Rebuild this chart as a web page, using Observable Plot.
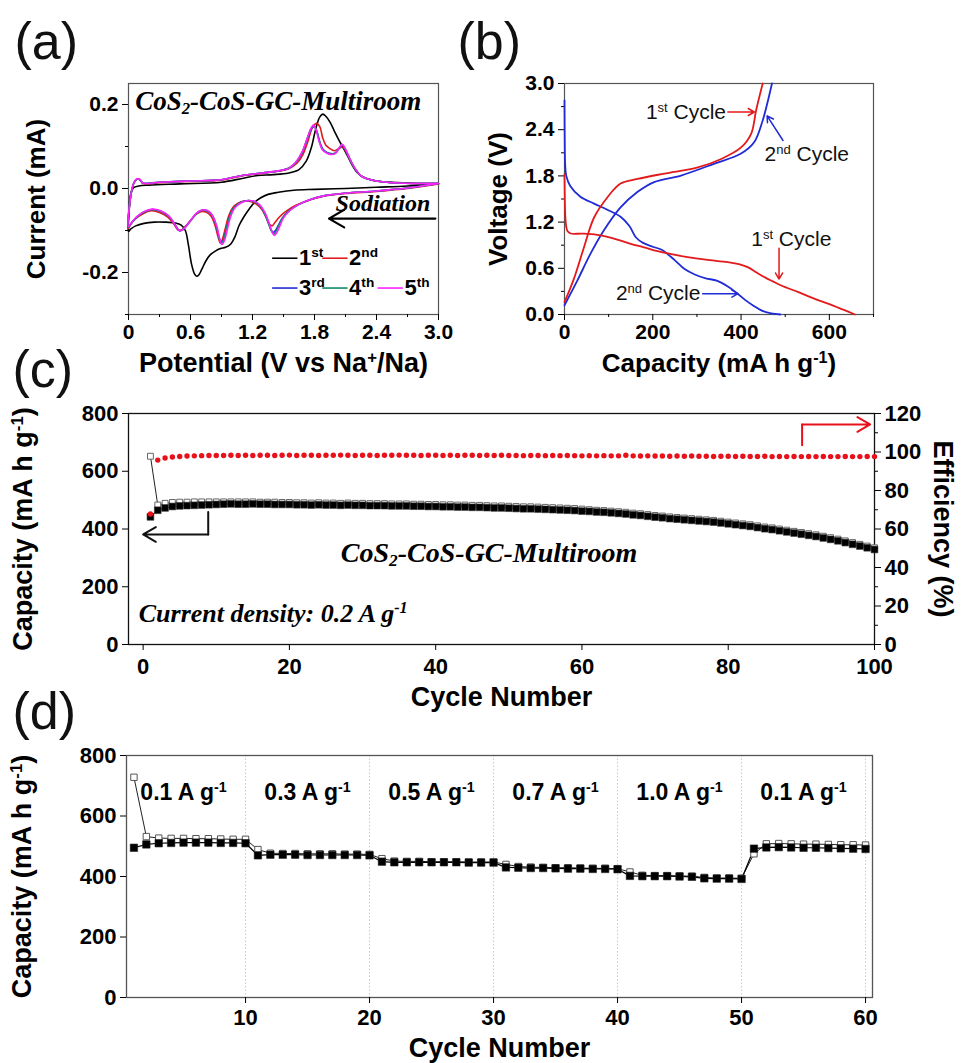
<!DOCTYPE html>
<html><head><meta charset="utf-8">
<script src="https://cdn.jsdelivr.net/npm/d3@7"></script>
<script src="https://cdn.jsdelivr.net/npm/@observablehq/plot@0.6"></script>
<style>
body{margin:0;background:#fff}
#fig{position:relative;width:962px;height:1063px;overflow:hidden;background:#fff}
</style>
</head><body><div id="fig"></div>
<script>
// ---------------- DATA ----------------
// (a) cyclic voltammetry, pairs [potential V, current mA]
const cvCycle1 = [[3.0,0.011],[2.7,0.006],[2.4,0.003],[2.1,0.0],[1.8,-0.002],[1.6,-0.004],[1.45,-0.009],[1.35,-0.014],[1.28,-0.022],[1.22,-0.033],[1.17,-0.048],[1.12,-0.066],[1.07,-0.088],[1.03,-0.115],[0.99,-0.132],[0.94,-0.140],[0.89,-0.143],[0.84,-0.149],[0.79,-0.158],[0.75,-0.172],[0.71,-0.192],[0.68,-0.206],[0.66,-0.209],[0.64,-0.204],[0.61,-0.180],[0.58,-0.135],[0.55,-0.100],[0.51,-0.087],[0.45,-0.082],[0.35,-0.080],[0.25,-0.080],[0.15,-0.083],[0.07,-0.089],[0.02,-0.097],[0.0,-0.102],[0.005,-0.06],[0.02,-0.015],[0.05,0.002],[0.1,0.006],[0.2,0.008],[0.5,0.011],[0.9,0.015],[1.1,0.024],[1.25,0.031],[1.4,0.033],[1.55,0.037],[1.65,0.045],[1.72,0.065],[1.77,0.098],[1.81,0.140],[1.85,0.170],[1.88,0.177],[1.91,0.172],[1.95,0.158],[1.99,0.138],[2.03,0.118],[2.07,0.100],[2.11,0.082],[2.16,0.058],[2.21,0.039],[2.28,0.026],[2.4,0.018],[2.6,0.014],[2.8,0.012],[3.0,0.012]];
const cvCycle2 = [[3.0,0.011],[2.7,0.0],[2.4,-0.007],[2.1,-0.012],[1.9,-0.018],[1.75,-0.028],[1.62,-0.040],[1.52,-0.055],[1.46,-0.068],[1.42,-0.080],[1.39,-0.089],[1.36,-0.084],[1.33,-0.068],[1.29,-0.050],[1.24,-0.038],[1.18,-0.031],[1.12,-0.030],[1.06,-0.035],[1.01,-0.045],[0.97,-0.065],[0.94,-0.092],[0.91,-0.120],[0.89,-0.130],[0.87,-0.118],[0.84,-0.090],[0.80,-0.066],[0.75,-0.056],[0.70,-0.055],[0.65,-0.062],[0.60,-0.076],[0.55,-0.090],[0.51,-0.099],[0.48,-0.099],[0.44,-0.085],[0.38,-0.068],[0.30,-0.057],[0.22,-0.053],[0.14,-0.060],[0.07,-0.072],[0.02,-0.085],[0.0,-0.095],[0.02,-0.02],[0.05,0.012],[0.08,0.022],[0.11,0.021],[0.14,0.012],[0.3,0.014],[0.6,0.017],[0.9,0.020],[1.1,0.030],[1.3,0.036],[1.45,0.041],[1.55,0.047],[1.63,0.060],[1.69,0.082],[1.74,0.115],[1.78,0.145],[1.82,0.155],[1.85,0.148],[1.88,0.120],[1.91,0.103],[1.95,0.095],[1.99,0.090],[2.03,0.094],[2.07,0.099],[2.10,0.090],[2.14,0.070],[2.19,0.048],[2.25,0.030],[2.35,0.020],[2.5,0.015],[2.75,0.012],[3.0,0.012]];
const cvCycle3 = [[3.0,0.012],[2.7,0.001],[2.4,-0.006],[2.1,-0.011],[1.9,-0.017],[1.76,-0.026],[1.64,-0.039],[1.55,-0.054],[1.49,-0.070],[1.45,-0.088],[1.42,-0.101],[1.40,-0.104],[1.38,-0.098],[1.35,-0.078],[1.31,-0.055],[1.26,-0.038],[1.20,-0.030],[1.14,-0.029],[1.08,-0.034],[1.02,-0.046],[0.98,-0.066],[0.95,-0.094],[0.92,-0.122],[0.90,-0.131],[0.88,-0.120],[0.85,-0.090],[0.81,-0.064],[0.76,-0.053],[0.71,-0.052],[0.66,-0.059],[0.61,-0.074],[0.56,-0.089],[0.52,-0.099],[0.49,-0.100],[0.45,-0.086],[0.39,-0.066],[0.31,-0.054],[0.23,-0.050],[0.15,-0.056],[0.08,-0.068],[0.03,-0.082],[0.0,-0.092],[0.02,-0.02],[0.05,0.012],[0.08,0.022],[0.11,0.021],[0.14,0.013],[0.3,0.015],[0.6,0.018],[0.9,0.021],[1.1,0.031],[1.3,0.037],[1.45,0.042],[1.55,0.048],[1.62,0.062],[1.68,0.085],[1.73,0.118],[1.77,0.143],[1.795,0.148],[1.82,0.138],[1.85,0.112],[1.88,0.094],[1.92,0.086],[1.96,0.083],[2.0,0.084],[2.04,0.096],[2.07,0.103],[2.10,0.092],[2.14,0.071],[2.19,0.048],[2.25,0.030],[2.35,0.020],[2.5,0.015],[2.75,0.012],[3.0,0.012]];
const cvCycle4 = [[3.0,0.012],[2.7,0.001],[2.4,-0.006],[2.1,-0.011],[1.9,-0.017],[1.76,-0.026],[1.64,-0.039],[1.55,-0.054],[1.49,-0.071],[1.45,-0.090],[1.425,-0.104],[1.405,-0.108],[1.38,-0.100],[1.35,-0.080],[1.31,-0.056],[1.26,-0.038],[1.20,-0.030],[1.14,-0.029],[1.08,-0.034],[1.02,-0.046],[0.98,-0.066],[0.95,-0.094],[0.92,-0.122],[0.90,-0.132],[0.88,-0.121],[0.85,-0.090],[0.81,-0.064],[0.76,-0.053],[0.71,-0.052],[0.66,-0.059],[0.61,-0.074],[0.56,-0.089],[0.52,-0.099],[0.49,-0.100],[0.45,-0.086],[0.39,-0.066],[0.31,-0.054],[0.23,-0.050],[0.15,-0.056],[0.08,-0.068],[0.03,-0.082],[0.0,-0.092],[0.02,-0.02],[0.05,0.012],[0.08,0.022],[0.11,0.021],[0.14,0.013],[0.3,0.015],[0.6,0.018],[0.9,0.021],[1.1,0.031],[1.3,0.037],[1.45,0.042],[1.55,0.048],[1.62,0.062],[1.68,0.086],[1.73,0.119],[1.77,0.144],[1.795,0.149],[1.82,0.138],[1.85,0.110],[1.88,0.092],[1.92,0.085],[1.96,0.082],[2.0,0.084],[2.04,0.097],[2.07,0.104],[2.10,0.093],[2.14,0.071],[2.19,0.048],[2.25,0.030],[2.35,0.020],[2.5,0.015],[2.75,0.012],[3.0,0.012]];
const cvCycle5 = [[3.0,0.012],[2.7,0.001],[2.4,-0.006],[2.1,-0.011],[1.9,-0.017],[1.76,-0.026],[1.64,-0.039],[1.56,-0.053],[1.50,-0.070],[1.46,-0.092],[1.43,-0.107],[1.41,-0.112],[1.39,-0.104],[1.36,-0.082],[1.32,-0.057],[1.27,-0.039],[1.21,-0.030],[1.15,-0.029],[1.09,-0.034],[1.03,-0.046],[0.99,-0.066],[0.96,-0.094],[0.93,-0.123],[0.905,-0.133],[0.885,-0.122],[0.855,-0.090],[0.81,-0.063],[0.76,-0.052],[0.71,-0.051],[0.66,-0.058],[0.61,-0.073],[0.56,-0.089],[0.52,-0.099],[0.49,-0.100],[0.45,-0.086],[0.39,-0.065],[0.31,-0.053],[0.23,-0.049],[0.15,-0.055],[0.08,-0.067],[0.03,-0.081],[0.0,-0.091],[0.02,-0.02],[0.05,0.012],[0.08,0.023],[0.11,0.022],[0.14,0.013],[0.3,0.015],[0.6,0.018],[0.9,0.021],[1.1,0.031],[1.3,0.037],[1.45,0.042],[1.55,0.048],[1.62,0.063],[1.68,0.087],[1.73,0.120],[1.77,0.145],[1.79,0.151],[1.815,0.140],[1.845,0.112],[1.88,0.091],[1.92,0.084],[1.96,0.081],[2.0,0.083],[2.04,0.097],[2.07,0.105],[2.10,0.094],[2.14,0.072],[2.19,0.049],[2.25,0.030],[2.35,0.020],[2.5,0.015],[2.75,0.012],[3.0,0.012]];
const cvLegendLabels = ["1^{st}", "2^{nd}", "3^{rd}", "4^{th}", "5^{th}"];

// (b) charge/discharge profiles, pairs [capacity mA h g-1, voltage V]
const gcdDischarge1 = [[0,1.82],[0.5,1.6],[1,1.42],[2,1.26],[4,1.14],[7,1.08],[14,1.052],[40,1.05],[74,1.035],[110,0.99],[150,0.918],[180,0.872],[211,0.822],[245,0.78],[279,0.745],[320,0.712],[370,0.68],[395,0.655],[415,0.615],[435,0.545],[453,0.485],[472,0.43],[491,0.377],[530,0.29],[567,0.204],[600,0.135],[630,0.066],[658,0.0]];
const gcdDischarge2 = [[0,2.78],[0.3,2.45],[0.7,2.15],[1.5,1.95],[4,1.8],[13,1.67],[36,1.53],[67,1.44],[97,1.36],[127,1.27],[147,1.15],[162,1.0],[178,0.93],[200,0.88],[220,0.84],[249,0.71],[272,0.59],[295,0.52],[320,0.47],[345,0.44],[371,0.36],[390,0.28],[409,0.19],[428,0.115],[447,0.05],[468,0.015],[489,0.0]];
const gcdCharge1 = [[0,0.16],[21,0.46],[44,0.87],[67,1.26],[97,1.52],[127,1.70],[165,1.76],[226,1.83],[302,1.91],[355,2.02],[400,2.17],[423,2.35],[434,2.65],[449,3.0]];
const gcdCharge2 = [[0,0.12],[29,0.44],[59,0.79],[89,1.09],[127,1.39],[165,1.59],[203,1.72],[264,1.805],[340,1.96],[400,2.09],[430,2.24],[449,2.52],[461,2.78],[470,3.0]];

// (c) cycling at 0.2 A g-1, cycles 1..100
const cycleNumbersC = d3.range(1, 101);
const dischargeC = [652,483,489,492,493,493,494,494,494,494,494,494,494,494,494,493,493,493,492,492,491,491,490,491,490,490,489,490,489,489,488,488,488,487,487,487,486,486,485,485,484,484,483,483,482,482,481,480,480,479,478,477,477,476,475,474,473,472,471,469,467,465,464,462,460,458,455,453,450,447,445,442,440,438,436,434,432,430,427,424,421,418,415,411,407,404,400,396,392,388,384,380,375,370,365,359,353,347,341,335];
const chargeC = [442,465,473,478,480,481,482,483,484,485,486,487,486,486,487,486,486,485,485,485,484,484,483,484,483,483,482,483,482,482,481,481,481,480,480,480,479,479,478,478,477,477,476,476,475,475,474,473,473,472,471,470,470,469,468,467,466,465,464,462,461,459,458,456,454,452,449,447,444,441,439,436,434,432,430,428,426,424,421,418,415,412,409,405,401,398,394,390,386,382,378,374,369,364,359,353,347,341,335,329];
const efficiencyC = [67.8,95.8,96.9,97.4,97.7,97.9,98.0,98.1,98.2,98.2,98.2,98.3,98.2,98.3,98.2,98.3,98.3,98.2,98.3,98.4,98.2,98.3,98.3,98.2,98.3,98.3,98.4,98.3,98.2,98.3,98.3,98.2,98.3,98.3,98.4,98.3,98.3,98.2,98.3,98.3,98.2,98.3,98.2,98.3,98.3,98.2,98.3,98.2,98.3,98.2,98.2,98.1,98.2,98.2,98.1,98.2,98.1,98.2,98.1,98.0,98.1,98.0,98.1,98.0,98.0,98.3,98.0,97.9,98.0,97.9,97.9,97.8,97.9,97.8,97.9,97.8,97.8,97.7,97.8,97.8,97.7,97.8,97.7,97.7,97.8,97.6,97.7,97.6,97.7,97.6,97.7,97.6,97.7,97.6,97.6,97.7,97.6,97.6,97.7,97.6];

// (d) rate capability, cycles 1..60
const cycleNumbersD = d3.range(1, 61);
const dischargeD = [728,532,527,526,526,525,525,524,523,523,489,477,476,476,475,475,475,474,474,473,459,451,450,450,449,449,449,448,448,448,440,433,431,430,429,429,428,427,427,426,415,404,403,403,402,401,397,395,395,394,475,508,509,508,507,507,506,505,505,504];
const chargeD = [495,506,510,511,512,512,512,511,511,510,470,472,472,472,471,471,471,471,471,470,449,447,447,447,447,447,447,446,446,446,430,429,428,428,427,426,426,425,425,424,402,401,401,401,400,399,394,393,393,392,492,496,497,496,495,495,494,493,492,491];
const rateLabels = ["0.1 A g^{-1}","0.3 A g^{-1}","0.5 A g^{-1}","0.7 A g^{-1}","1.0 A g^{-1}","0.1 A g^{-1}"];
const rateLabelCycles = [5, 15, 25, 35, 45, 55];

// tick values
const ticksAx = [0, 0.6, 1.2, 1.8, 2.4, 3.0];
const ticksAy = [-0.2, 0.0, 0.2];
const ticksBx = [0, 200, 400, 600];
const ticksBy = [0, 0.6, 1.2, 1.8, 2.4, 3.0];
const ticksCx = [0, 20, 40, 60, 80, 100];
const ticksCy = [0, 200, 400, 600, 800];
const ticksCy2 = [0, 20, 40, 60, 80, 100, 120];
const ticksDx = [10, 20, 30, 40, 50, 60];
const ticksDy = [0, 200, 400, 600, 800];

// ---------------- HELPERS ----------------
const SANS = "'Liberation Sans', Arial, Helvetica, sans-serif";
const SERIF = "'Liberation Serif', 'Times New Roman', serif";
const NS = "http://www.w3.org/2000/svg";
const fig = document.getElementById("fig");

function rich(svg) {
  svg.querySelectorAll("text").forEach(t => {
    const s = t.textContent;
    if (!/[\^_]\{/.test(s)) return;
    while (t.firstChild) t.removeChild(t.firstChild);
    const re = /([\^_])\{([^}]*)\}/g; let last = 0, m;
    const add = (str, kind) => {
      const ts = document.createElementNS(NS, "tspan");
      ts.textContent = str;
      if (kind) {
        ts.setAttribute("font-size", "62%");
        ts.setAttribute("baseline-shift", kind === "^" ? "55%" : "-25%");
      }
      t.appendChild(ts);
    };
    while ((m = re.exec(s))) {
      if (m.index > last) add(s.slice(last, m.index), null);
      add(m[2], m[1]);
      last = re.lastIndex;
    }
    if (last < s.length) add(s.slice(last), null);
  });
}
function place(svg, left, top) {
  svg.style.position = "absolute";
  svg.style.left = left + "px";
  svg.style.top = top + "px";
  rich(svg);
  fig.appendChild(svg);
}
const baseStyle = {fontFamily: SANS, background: "transparent", overflow: "visible", color: "#000"};
const tickText = {fontSize: 21, fontWeight: "bold", label: null};
const pts = arr => arr.map(([x, y]) => ({x, y}));
const title = (txt, o) => Plot.text([txt], {text: d => d, fontSize: 26, fontWeight: "bold", fill: "#000", textAnchor: "middle", lineAnchor: "middle", ...o});
const panelLetter = (txt, dx, dy) => Plot.text([txt], {text: d => d, frameAnchor: "top-left", textAnchor: "start", lineAnchor: "middle", dx, dy, fontSize: 52, fontWeight: "normal", fill: "#111"});

// ---------------- PANEL (a) ----------------
{
  const cycles = [cvCycle1, cvCycle2, cvCycle3, cvCycle4, cvCycle5];
  const colors = ["#000000", "#e31a1c", "#1f2bd6", "#0f8a6a", "#ff22ff"];
  const legRows = [0, 0, 1, 1, 1], legCols = [0, 1, 0, 1, 2];
  const legX0 = [1.39, 1.875, 2.41], legLen = 0.245, legY = [-0.166, -0.237];
  const legend = cvLegendLabels.map((label, i) => ({label, color: colors[i], x1: legX0[legCols[i]], x2: legX0[legCols[i]] + legLen, y: legY[legRows[i]]}));
  const svg = Plot.plot({
    width: 470, height: 390, marginLeft: 128, marginRight: 32, marginTop: 83, marginBottom: 76,
    style: baseStyle,
    x: {domain: [0, 3], axis: null},
    y: {domain: [-0.3, 0.25], axis: null},
    marks: [
      Plot.frame({stroke: "#555", strokeWidth: 1.2}),
      Plot.axisX({ticks: ticksAx, tickSize: 6, tickPadding: 4, tickFormat: d => d === 0 ? "0" : d.toFixed(1), ...tickText}),
      Plot.axisX({ticks: [0.3, 0.9, 1.5, 2.1, 2.7], tickSize: 3, tickFormat: () => "", label: null}),
      Plot.axisY({ticks: ticksAy, tickSize: 6, tickPadding: 4, tickFormat: d => d.toFixed(1), ...tickText}),
      Plot.axisY({ticks: [-0.3, -0.1, 0.1], tickSize: 3, tickFormat: () => "", label: null}),
      ...cycles.map((c, i) => Plot.line(pts(c), {x: "x", y: "y", stroke: colors[i], strokeWidth: 1.6, curve: "catmull-rom"})),
      Plot.link(legend, {x1: "x1", x2: "x2", y1: "y", y2: "y", stroke: "color", strokeWidth: 1.6}),
      Plot.text(legend, {x: d => d.x2 + 0.015, y: "y", text: "label", textAnchor: "start", fontSize: 22, fontWeight: "bold", fill: "#000"}),
      Plot.arrow([{x1: 2.97, x2: 1.94, y: -0.0717}], {x1: "x1", x2: "x2", y1: "y", y2: "y", stroke: "#000", strokeWidth: 2.2, headLength: 12}),
      Plot.text(["Sodiation"], {text: d => d, x: 2.92, y: -0.036, textAnchor: "end", fontFamily: SERIF, fontStyle: "italic", fontWeight: "bold", fontSize: 24, fill: "#000"}),
      Plot.text(["CoS_{2}-CoS-GC-Multiroom"], {text: d => d, x: 0.065, y: 0.207, textAnchor: "start", fontFamily: SERIF, fontStyle: "italic", fontWeight: "bold", fontSize: 27, fill: "#000"}),
      title("Current (mA)", {frameAnchor: "left", rotate: -90, dx: -92}),
      title("Potential (V vs Na^{+}/Na)", {frameAnchor: "bottom", dy: 49, fontSize: 27}),
      panelLetter("(a)", -114, -41)
    ]
  });
  place(svg, 0, 0);
}

// ---------------- PANEL (b) ----------------
{
  const curves = [[gcdDischarge2, "#1f2bd6"], [gcdCharge2, "#1f2bd6"], [gcdDischarge1, "#e31a1c"], [gcdCharge1, "#e31a1c"]];
  const notesEnd = [
    {t: "1^{st} Cycle", x: 366, y: 2.63},
    {t: "2^{nd} Cycle", x: 308, y: 0.27}
  ];
  const notesStart = [
    {t: "2^{nd} Cycle", x: 453, y: 2.08},
    {t: "1^{st} Cycle", x: 423, y: 0.98}
  ];
  const arrows = [
    {x1: 370, y1: 2.63, x2: 430, y2: 2.63, c: "#e31a1c"},
    {x1: 495, y1: 2.26, x2: 459, y2: 2.58, c: "#1f2bd6"},
    {x1: 486, y1: 0.86, x2: 486, y2: 0.46, c: "#e31a1c"},
    {x1: 313, y1: 0.27, x2: 393, y2: 0.27, c: "#1f2bd6"}
  ];
  const svg = Plot.plot({
    width: 492, height: 390, marginLeft: 94, marginRight: 89, marginTop: 83, marginBottom: 76,
    style: baseStyle,
    x: {domain: [0, 700], axis: null},
    y: {domain: [0, 3], axis: null},
    marks: [
      Plot.frame({stroke: "#555", strokeWidth: 1.2}),
      Plot.axisX({ticks: ticksBx, tickSize: 6, tickPadding: 4, tickFormat: d => String(d), ...tickText}),
      Plot.axisX({ticks: [100, 300, 500, 700], tickSize: 3, tickFormat: () => "", label: null}),
      Plot.axisY({ticks: ticksBy, tickSize: 6, tickPadding: 4, tickFormat: d => d.toFixed(1), ...tickText}),
      Plot.axisY({ticks: [0.3, 0.9, 1.5, 2.1, 2.7], tickSize: 3, tickFormat: () => "", label: null}),
      ...curves.map(([c, col]) => Plot.line(pts(c), {x: "x", y: "y", stroke: col, strokeWidth: 1.8, curve: "catmull-rom"})),
      Plot.arrow(arrows, {x1: "x1", y1: "y1", x2: "x2", y2: "y2", stroke: "c", strokeWidth: 1.5, headLength: 7}),
      Plot.text(notesEnd, {x: "x", y: "y", text: "t", textAnchor: "end", fontSize: 21, fill: "#111"}),
      Plot.text(notesStart, {x: "x", y: "y", text: "t", textAnchor: "start", fontSize: 21, fill: "#111"}),
      title("Voltage (V)", {frameAnchor: "left", rotate: -90, dx: -66}),
      title("Capacity (mA h g^{-1})", {frameAnchor: "bottom", dy: 49}),
      panelLetter("(b)", -107, -41)
    ]
  });
  place(svg, 470, 0);
}

// ---------------- PANEL (c) ----------------
{
  const dataC = cycleNumbersC.map((c, i) => ({c, dis: dischargeC[i], cha: chargeC[i], eff: efficiencyC[i]}));
  const svg = Plot.plot({
    width: 962, height: 390, marginLeft: 128, marginRight: 88, marginTop: 83, marginBottom: 76,
    style: baseStyle,
    x: {domain: [-2, 100], axis: null},
    y: {domain: [0, 800], axis: null},
    marks: [
      Plot.frame({stroke: "#111", strokeWidth: 1.3}),
      Plot.axisX({ticks: ticksCx, tickSize: 6, tickPadding: 8, tickFormat: d => String(d), ...tickText, fontSize: 22}),
      Plot.axisY({ticks: ticksCy, tickSize: 6, tickPadding: 4, tickFormat: d => String(d), ...tickText, fontSize: 22}),
      Plot.line(dataC, {x: "c", y: "dis", stroke: "#222", strokeWidth: 1}),
      Plot.line(dataC, {x: "c", y: "cha", stroke: "#000", strokeWidth: 1}),
      Plot.dot(dataC, {x: "c", y: "dis", symbol: "square", r: 3.3, fill: "#fff", stroke: "#666", strokeWidth: 1}),
      Plot.dot(dataC, {x: "c", y: "cha", symbol: "square", r: 3.8, fill: "#000", stroke: "#333", strokeWidth: 0.6}),
      Plot.line([{x: 8.9, y: 459}, {x: 8.9, y: 381}], {x: "x", y: "y", stroke: "#111", strokeWidth: 2}),
      Plot.arrow([{x1: 8.9, x2: 0, y: 381}], {x1: "x1", x2: "x2", y1: "y", y2: "y", stroke: "#111", strokeWidth: 2, headLength: 11}),
      Plot.text(["CoS_{2}-CoS-GC-Multiroom"], {text: d => d, x: 47.3, y: 316, fontFamily: SERIF, fontStyle: "italic", fontWeight: "bold", fontSize: 28, fill: "#000"}),
      Plot.text(["Current density: 0.2 A g^{-1}"], {text: d => d, x: -0.6, y: 108, textAnchor: "start", fontFamily: SERIF, fontStyle: "italic", fontWeight: "bold", fontSize: 26, fill: "#000"}),
      title("Capacity (mA h g^{-1})", {frameAnchor: "left", rotate: -90, dx: -105, fontSize: 27}),
      title("Cycle Number", {frameAnchor: "bottom", dy: 53, fontSize: 27}),
      panelLetter("(c)", -116, -43)
    ]
  });
  place(svg, 0, 330);

  const svg2 = Plot.plot({
    width: 962, height: 390, marginLeft: 128, marginRight: 88, marginTop: 83, marginBottom: 76,
    style: baseStyle,
    x: {domain: [-2, 100], axis: null},
    y: {domain: [0, 120], axis: null},
    marks: [
      Plot.axisY({anchor: "right", ticks: ticksCy2, tickSize: 6, tickPadding: 4, tickFormat: d => String(d), ...tickText, fontSize: 22}),
      Plot.axisY({anchor: "right", ticks: [10, 30, 50, 70, 90, 110], tickSize: 3, tickFormat: () => "", label: null}),
      Plot.dot(dataC, {x: "c", y: "eff", r: 2.7, fill: "#e8101a", stroke: "none"}),
      Plot.line([{x: 90.1, y: 103.5}, {x: 90.1, y: 114.3}], {x: "x", y: "y", stroke: "#e8101a", strokeWidth: 2}),
      Plot.arrow([{x1: 90.1, x2: 99.4, y: 114.3}], {x1: "x1", x2: "x2", y1: "y", y2: "y", stroke: "#e8101a", strokeWidth: 2, headLength: 11}),
      title("Efficiency (%)", {frameAnchor: "right", rotate: 90, dx: 68, fontSize: 27})
    ]
  });
  place(svg2, 0, 330);
}

// ---------------- PANEL (d) ----------------
{
  const dataD = cycleNumbersD.map((c, i) => ({c, dis: dischargeD[i], cha: chargeD[i]}));
  const labels = rateLabels.map((t, i) => ({t, c: rateLabelCycles[i]}));
  const svg = Plot.plot({
    width: 962, height: 383, marginLeft: 126, marginRight: 90, marginTop: 75, marginBottom: 66,
    style: baseStyle,
    x: {domain: [0.4, 60.56], axis: null},
    y: {domain: [0, 800], axis: null},
    marks: [
      Plot.ruleX(ticksDx, {stroke: "#c8c8c8", strokeWidth: 1, strokeDasharray: "1.5,2"}),
      Plot.frame({stroke: "#555", strokeWidth: 1.3}),
      Plot.axisX({ticks: ticksDx, tickSize: 6, tickPadding: 6, tickFormat: d => String(d), ...tickText, fontSize: 22}),
      Plot.axisY({ticks: ticksDy, tickSize: 6, tickPadding: 4, tickFormat: d => String(d), ...tickText, fontSize: 22}),
      Plot.line(dataD, {x: "c", y: "dis", stroke: "#222", strokeWidth: 1}),
      Plot.line(dataD, {x: "c", y: "cha", stroke: "#000", strokeWidth: 1.2}),
      Plot.dot(dataD, {x: "c", y: "dis", symbol: "square", r: 3.6, fill: "#fff", stroke: "#555", strokeWidth: 1}),
      Plot.dot(dataD, {x: "c", y: "cha", symbol: "square", r: 4.2, fill: "#000", stroke: "#222", strokeWidth: 0.6}),
      Plot.text(labels, {x: "c", y: 677, text: "t", fontSize: 23, fontWeight: "bold", fill: "#000"}),
      title("Capacity (mA h g^{-1})", {frameAnchor: "left", rotate: -90, dx: -104, fontSize: 27}),
      title("Cycle Number", {frameAnchor: "bottom", dy: 51, fontSize: 27}),
      panelLetter("(d)", -114, -43)
    ]
  });
  place(svg, 0, 680);
}
</script>
</body></html>
